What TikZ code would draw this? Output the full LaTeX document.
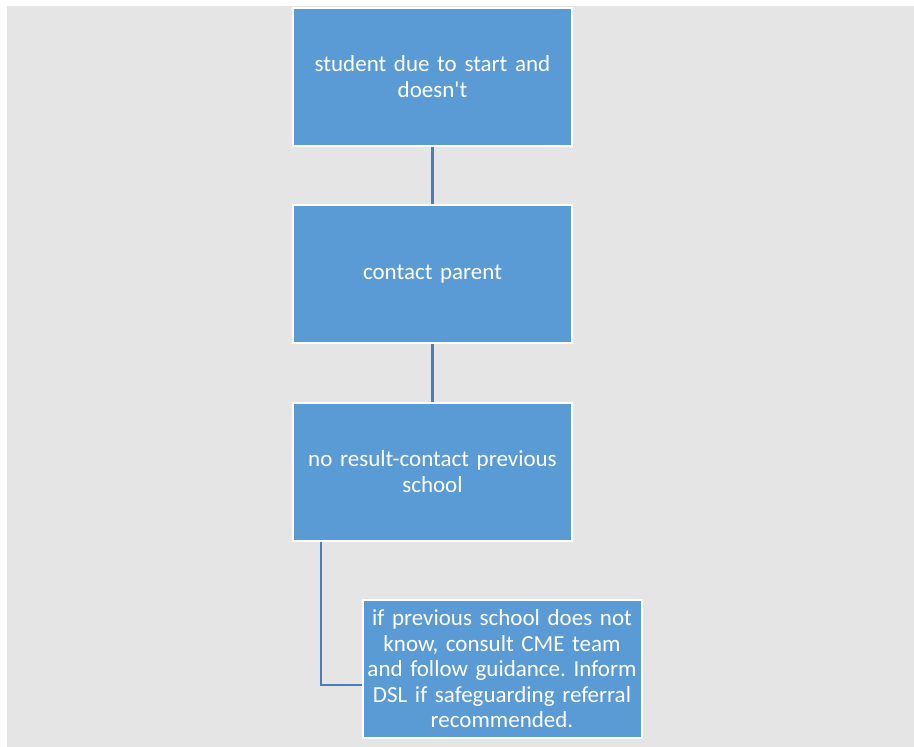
\documentclass[tikz,border=0pt]{standalone}
\usepackage{fontspec}
\setmainfont{Carlito}
\usepackage{tikz}
\usetikzlibrary{positioning, calc}
\definecolor{boxblue}{RGB}{91, 155, 213}
\definecolor{linkblue}{RGB}{74, 126, 187}
\definecolor{bggray}{RGB}{229, 229, 229}

\begin{document}
\frenchspacing
\begin{tikzpicture}[
    x=1pt, y=-1pt,
    font=\fontsize{23}{25.5}\selectfont,
    stepbox/.style={draw=white, line width=2pt, fill=boxblue, text=white, minimum width=279pt, minimum height=138pt, text width=277pt, inner sep=1pt, align=center},
    link/.style={linkblue, line width=2.2pt},
]

% --- Background panel ---
\useasboundingbox (0,0) rectangle (914,747);
\fill[bggray] (7,6) rectangle (914,747);

% --- Main column ---
\node[stepbox] (nostart) at (432.5,76.5) {student due to start and\\doesn\textquotesingle t};
\node[stepbox, below=57.5pt of nostart] (parent) {contact parent};
\node[stepbox, below=57.5pt of parent] (prevschool) {no result-contact previous\\school};

% --- Final step (offset right) ---
\node[stepbox, below=57.5pt of prevschool, xshift=69.5pt] (cme) {if previous school does not\\know, consult CME team\\and follow guidance. Inform\\DSL if safeguarding referral\\recommended.};

% --- Connectors ---
\draw[link] (nostart) -- (parent);
\draw[link] (parent) -- (prevschool);
\draw[link] ($(prevschool.south west)!0.104!(prevschool.south east)$) |- ($(cme.north west)!0.616!(cme.south west)$);

\end{tikzpicture}
\end{document}
